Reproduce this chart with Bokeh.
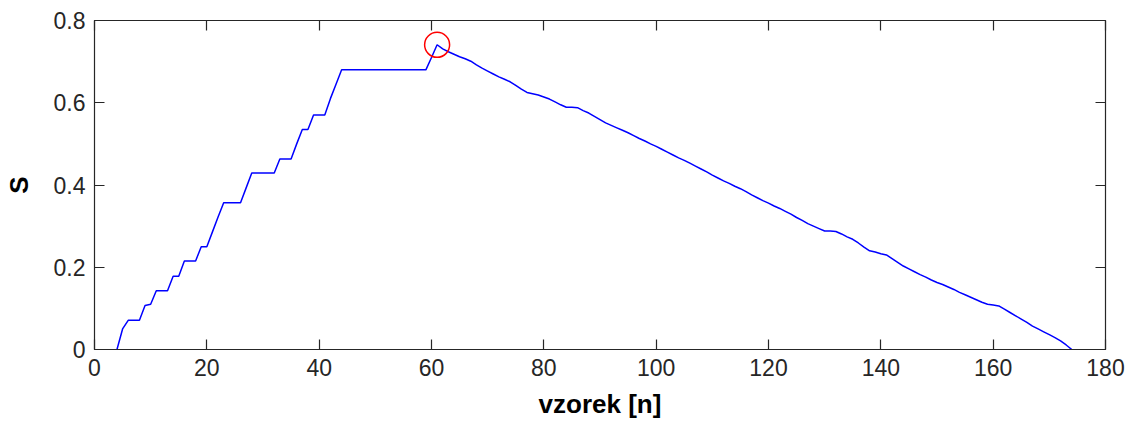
from bokeh.plotting import figure
from bokeh.models import Range1d, LinearAxis, FixedTicker
from bokeh.embed import file_html
from bokeh.resources import INLINE

# ---- data ----
n_rise = list(range(4, 61))
s_rise = [0.0, 0.05, 0.071, 0.071, 0.071, 0.107, 0.110, 0.143, 0.143, 0.143,
          0.178, 0.178, 0.215, 0.215, 0.215, 0.250, 0.250, 0.286, 0.322, 0.357,
          0.357, 0.357, 0.357, 0.393, 0.429, 0.429, 0.429, 0.429, 0.429, 0.463,
          0.463, 0.463, 0.500, 0.535, 0.535, 0.570, 0.570, 0.570, 0.610, 0.645,
          0.680, 0.680, 0.680, 0.680, 0.680, 0.680, 0.680, 0.680, 0.680, 0.680,
          0.680, 0.680, 0.680, 0.680, 0.680, 0.680, 0.710]
n_fall = list(range(61, 175))
s_fall = [0.741, 0.731, 0.724, 0.718, 0.712, 0.707, 0.701, 0.692, 0.684, 0.677,
          0.670, 0.663, 0.657, 0.651, 0.642, 0.633, 0.625, 0.622, 0.619, 0.614,
          0.609, 0.602, 0.595, 0.589, 0.589, 0.588, 0.581, 0.575, 0.567, 0.559,
          0.551, 0.545, 0.539, 0.533, 0.527, 0.520, 0.513, 0.507, 0.500, 0.494,
          0.487, 0.480, 0.473, 0.466, 0.460, 0.453, 0.446, 0.439, 0.432, 0.424,
          0.417, 0.410, 0.404, 0.397, 0.391, 0.384, 0.376, 0.369, 0.362, 0.356,
          0.349, 0.343, 0.336, 0.329, 0.321, 0.314, 0.306, 0.300, 0.294, 0.288,
          0.288, 0.287, 0.281, 0.274, 0.268, 0.259, 0.249, 0.240, 0.237, 0.233,
          0.230, 0.221, 0.212, 0.203, 0.196, 0.189, 0.182, 0.176, 0.169, 0.163,
          0.158, 0.152, 0.146, 0.139, 0.133, 0.127, 0.121, 0.115, 0.110, 0.108,
          0.106, 0.098, 0.090, 0.082, 0.074, 0.066, 0.057, 0.050, 0.043, 0.036,
          0.029, 0.021, 0.011, 0.000]
peak_n = [61]
peak_s = [0.741]

x_ticks = [0, 20, 40, 60, 80, 100, 120, 140, 160, 180]
y_ticks = [0, 0.2, 0.4, 0.6, 0.8]
y_tick_labels = ["0", "0.2", "0.4", "0.6", "0.8"]

n_all = n_rise + n_fall
s_all = s_rise + s_fall

FONT = "Liberation Sans"
TXT = "#262626"

p = figure(width=1132, height=421, output_backend="svg", toolbar_location=None,
           x_range=Range1d(0, 180), y_range=Range1d(0, 0.8),
           min_border_left=91, min_border_right=27, min_border_top=20,
           min_border_bottom=69, x_axis_label="vzorek [n]", y_axis_label="S")
p.grid.visible = False
p.outline_line_color = TXT
p.outline_line_width = 1.2
p.background_fill_color = "white"
p.border_fill_color = "white"

p.line(n_all, s_all, line_color="#0000ff", line_width=1.5)
p.scatter(peak_n, peak_s, marker="circle", size=25, fill_color=None,
          line_color="#ff0000", line_width=1.5)

xa = p.xaxis[0]
ya = p.yaxis[0]
xa.ticker = FixedTicker(ticks=x_ticks)
ya.ticker = FixedTicker(ticks=y_ticks)
ya.major_label_overrides = {t: l for t, l in zip(y_ticks, y_tick_labels)}

for ax in (xa, ya):
    ax.major_tick_in = 10
    ax.major_tick_out = 0
    ax.minor_tick_in = 0
    ax.minor_tick_out = 0
    ax.axis_line_color = TXT
    ax.major_tick_line_color = TXT
    ax.major_tick_line_width = 1.2
    ax.major_label_text_font = FONT
    ax.major_label_text_font_size = "23px"
    ax.major_label_text_color = TXT
    ax.axis_label_text_font = FONT
    ax.axis_label_text_font_size = "26px"
    ax.axis_label_text_font_style = "bold"
    ax.axis_label_text_color = "black"

xa.major_label_standoff = 9
xa.axis_label_standoff = 10
ya.major_label_standoff = 9
ya.axis_label_standoff = 17

top = LinearAxis(ticker=FixedTicker(ticks=x_ticks))
right = LinearAxis(ticker=FixedTicker(ticks=y_ticks))
for ax in (top, right):
    ax.major_tick_in = 10
    ax.major_tick_out = 0
    ax.minor_tick_in = 0
    ax.minor_tick_out = 0
    ax.major_tick_line_color = TXT
    ax.major_tick_line_width = 1.2
    ax.axis_line_color = None
    ax.major_label_text_color = None
    ax.major_label_text_font_size = "1px"
    ax.major_label_standoff = 0
p.add_layout(top, "above")
p.add_layout(right, "right")

open("out.html", "w").write(file_html(p, INLINE))
